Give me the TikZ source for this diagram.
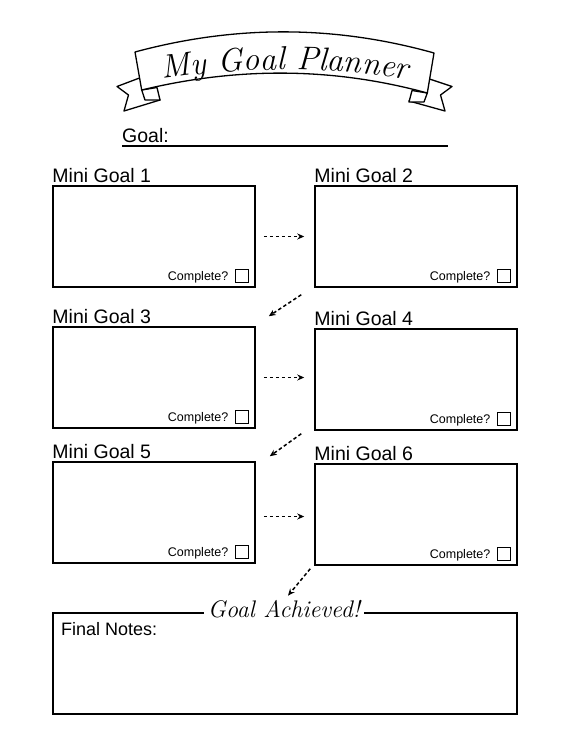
\documentclass[tikz,border=0pt]{standalone}
\usepackage{fontspec}
\newfontfamily\hand{Liberation Sans}
\usetikzlibrary{arrows.meta,decorations.text,calc}
\begin{document}
\begin{tikzpicture}[x=1pt,y=-1pt,
  goalbox/.style={draw, line width=1.5pt, minimum width=202pt, minimum height=101pt, inner sep=0pt},
  lbl/.style={font=\hand\fontsize{19.5}{20}\selectfont, anchor=base west, inner sep=0pt},
  comp/.style={font=\hand\fontsize{12.5}{13}\selectfont, anchor=base east, inner sep=0pt},
  chk/.style={draw, line width=1.2pt, minimum size=13pt, inner sep=0pt, anchor=south east},
  flow/.style={line width=1.5pt, dash pattern=on 3.5pt off 2.5pt, -{Stealth[length=7pt,width=6pt]}},
  band/.style={draw, fill=white, line width=1.3pt, line join=round}]
\useasboundingbox[fill=white] (0,0) rectangle (570,738);

% banner
\path[band] (139.5,78) -- (117,86.5) -- (128.5,95) -- (124,111) -- (160,100) -- cycle;
\path[band] (141.7,90) -- (145,100) -- (160,100) -- (157,87.5) -- cycle;
\path[band] (429.5,79) -- (452,86.5) -- (440.5,95) -- (445,111) -- (409,101) -- cycle;
\path[band] (427.3,93) -- (424,102) -- (409,102) -- (412,90.5) -- cycle;
\path[band] (135,52) .. controls (235,25) and (334,25) .. (434,53) -- (427.3,93)
  .. controls (332,67) and (237,67) .. (141.7,90) -- cycle;
\path[decorate, decoration={text along path,
  text={|\itshape\fontsize{33}{33}\selectfont|My Goal Planner}, text align=center}]
  (150,81) .. controls (240,66) and (330,66) .. (420,81);

% goal line
\node[lbl] (goal) at (122,143) {Goal:};
\coordinate (goalend) at (448,146);
\draw[line width=2pt] ([yshift=-3pt]goal.base west) -- (goalend);

% boxes
\node[goalbox] (g1) at (154,236.5) {};
\node[goalbox] (g2) at (416,236.5) {};
\node[goalbox] (g3) at (154,377.5) {};
\node[goalbox] (g4) at (416,379.5) {};
\node[goalbox] (g5) at (154,512.5) {};
\node[goalbox] (g6) at (416,514.5) {};

\foreach \i in {1,...,6}{
  \node[lbl] (l\i) at ([yshift=3pt]g\i.north west) {Mini Goal \i};
  \node[chk] (c\i) at ([shift={(-7,-5)}]g\i.south east) {};
  \node[comp] (t\i) at ([shift={(-6,-2)}]c\i.south west) {Complete?};
}

% connectors
\draw[flow] ([xshift=8pt]g1.east) -- ([xshift=-10pt]g2.west);
\draw[flow] ([shift={(-13,7)}]g2.south west) -- ([shift={(13,-10)}]g3.north east);
\draw[flow] ($(g3.east)+(8,0)$) -- ($(g3.east -| g4.west)+(-10,0)$);
\draw[flow] ([shift={(-13,3)}]g4.south west) -- ([shift={(14,-5)}]g5.north east);
\draw[flow] ($(g5.east)+(8,4)$) -- ($(g5.east -| g6.west)+(-10,4)$);

% final box
\node[draw, line width=2pt, minimum width=464pt, minimum height=101pt, inner sep=0pt] (fin) at (285,663.5) {};
\node[fill=white, inner xsep=4pt, inner ysep=1pt, anchor=base, font=\itshape\fontsize{24}{24}\selectfont] (ach) at (284,617) {Goal Achieved!};
\node[font=\hand\fontsize{18}{18}\selectfont, anchor=base west, inner sep=0pt] (fn) at ([shift={(9,23)}]fin.north west) {Final Notes:};
\draw[flow] ([shift={(-4,3)}]g6.south west) -- ([shift={(4,-3)}]ach.north);
\end{tikzpicture}
\end{document}
